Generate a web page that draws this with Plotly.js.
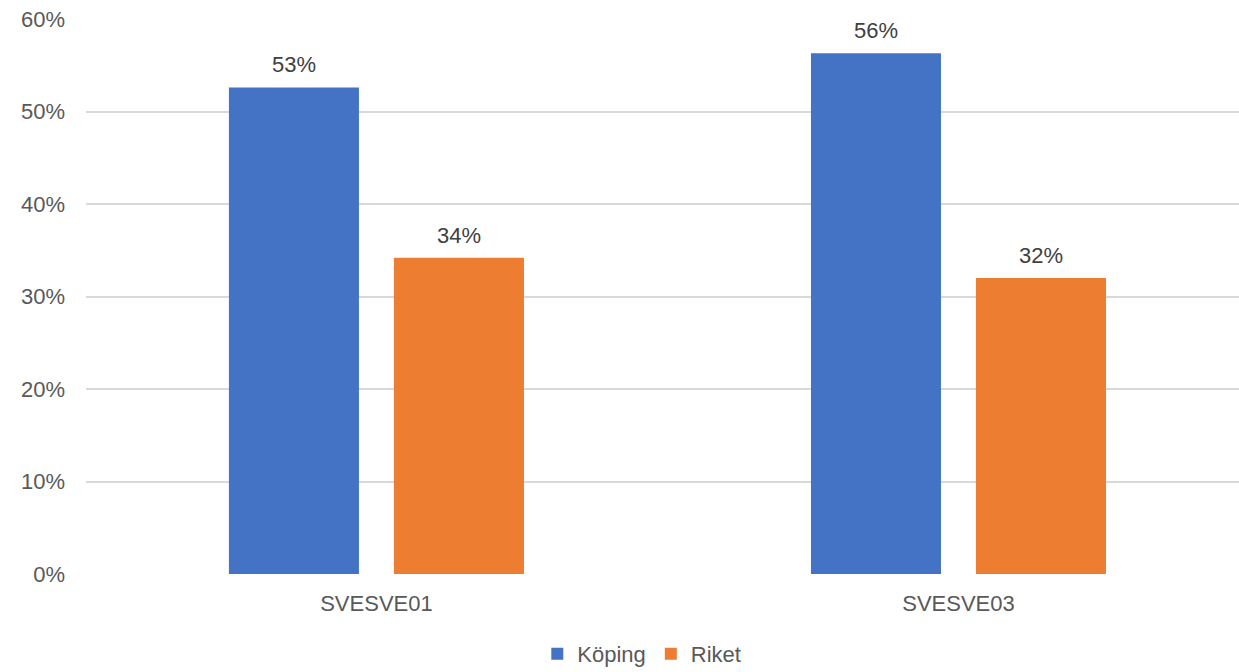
<!DOCTYPE html>
<html>
<head>
<meta charset="utf-8">
<script src="https://cdn.plot.ly/plotly-3.0.1.min.js"></script>
<style>html,body{margin:0;padding:0;background:#fff;}#chart{width:1239px;height:672px;}</style>
</head>
<body>
<div id="chart"></div>
<script>
const categories = ["SVESVE01", "SVESVE03"];
const seriesNames = ["Köping", "Riket"];
const koping = [52.6, 56.3];
const riket = [34.2, 32.0];
const yTickVals = [0, 10, 20, 30, 40, 50, 60];
const yTickText = ["0%", "10%", "20%", "30%", "40%", "50%", "60%"];

const colors = ["#4472C4", "#ED7D31"];
const font = "Liberation Sans, Arial, sans-serif";
const series = [koping, riket];

const traces = series.map((vals, i) => ({
  type: "bar",
  name: seriesNames[i],
  x: categories,
  y: vals,
  marker: {color: colors[i]},
  hoverinfo: "skip"
}));

const annotations = [];
series.forEach((vals, i) => {
  vals.forEach((v, j) => {
    annotations.push({
      xref: "x", yref: "y",
      x: categories[j], y: v,
      text: Math.round(v) + "%",
      showarrow: false,
      xanchor: "center", yanchor: "bottom",
      xshift: i === 0 ? -82.5 : 82.5,
      yshift: 8,
      font: {family: font, size: 22, color: "#404040"}
    });
  });
});

const layout = {
  width: 1239, height: 672,
  margin: {l: 86, r: 0, t: 19, b: 98, autoexpand: false},
  paper_bgcolor: "#fff", plot_bgcolor: "#fff",
  barmode: "group",
  bargap: 0.433,
  bargroupgap: 0.212,
  showlegend: true,
  legend: {
    orientation: "h",
    xref: "container", yref: "container",
    x: 0.518, xanchor: "center",
    y: 0.027, yanchor: "middle",
    font: {family: font, size: 22, color: "#595959"},
    itemwidth: 30,
    traceorder: "normal"
  },
  xaxis: {
    type: "category",
    range: [-0.499, 1.482],
    showgrid: false,
    zeroline: false,
    showline: false,
    ticks: "",
    ticklabelstandoff: 14,
    tickfont: {family: font, size: 22, color: "#595959"}
  },
  yaxis: {
    range: [0, 60],
    tickvals: yTickVals,
    ticktext: yTickText,
    showgrid: true,
    gridcolor: "#D9D9D9",
    gridwidth: 2,
    zeroline: false,
    showline: false,
    ticks: "",
    ticklabelstandoff: 20,
    tickfont: {family: font, size: 22, color: "#595959"}
  },
  annotations: annotations,
  font: {family: font}
};

Plotly.newPlot("chart", traces, layout, {displayModeBar: false, staticPlot: true});
</script>
</body>
</html>
